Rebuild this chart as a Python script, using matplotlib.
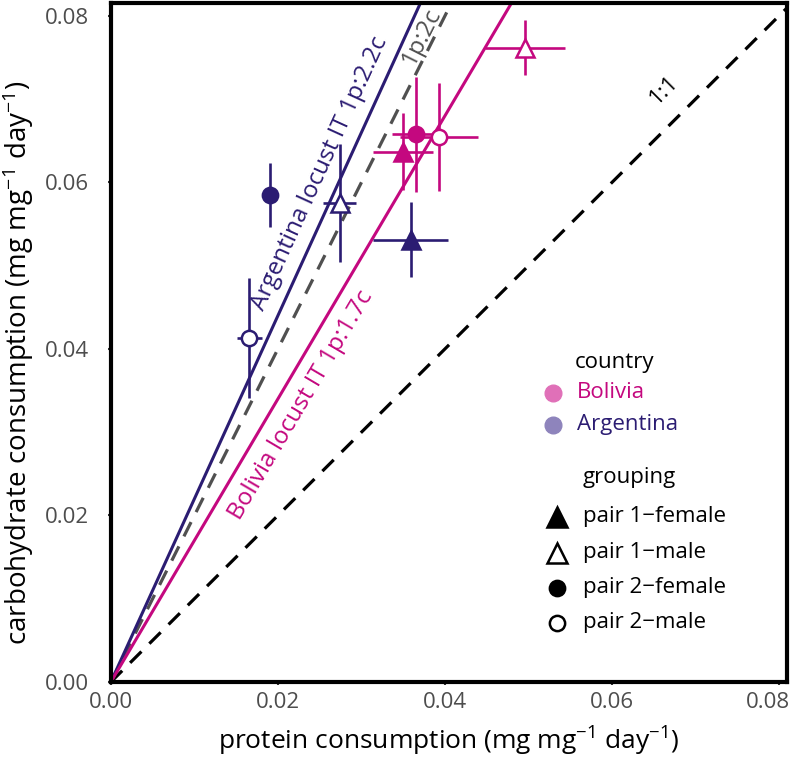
import numpy as np
import matplotlib.pyplot as plt
import matplotlib.transforms as mtrans

plt.rcParams['font.family'] = ['Open Sans', 'DejaVu Sans']
plt.rcParams['mathtext.fontset'] = 'custom'
plt.rcParams['mathtext.rm'] = 'Open Sans'
plt.rcParams['mathtext.it'] = 'Open Sans'

# ---- data ----
groups = ['pair 1\u2212female', 'pair 1\u2212male', 'pair 2\u2212female', 'pair 2\u2212male']
markers = ['^', '^', 'o', 'o']
filled = [True, False, True, False]

bol_x = [0.0350, 0.0496, 0.0366, 0.0393]
bol_y = [0.0637, 0.0762, 0.0658, 0.0655]
bol_xerr = [0.0036, 0.0048, 0.0029, 0.0047]
bol_yerr = [0.0046, 0.0033, 0.0069, 0.0065]

arg_x = [0.0359, 0.0274, 0.0190, 0.0166]
arg_y = [0.0531, 0.0575, 0.0585, 0.0413]
arg_xerr = [0.0045, 0.0020, 0.0006, 0.0015]
arg_yerr = [0.0045, 0.0071, 0.0039, 0.0072]

slope_arg = 2.2
slope_bol = 1.7
slope_ref = 2.0

navy = '#2b1c72'
magenta = '#c4087f'

fig = plt.figure(figsize=(7.92, 7.65), dpi=100)
ax = fig.add_axes([0.140, 0.1085, 0.854, 0.888])
ax.set_xlim(0, 0.081)
ax.set_ylim(0, 0.0816)

xx = np.array([0, 0.081])
ax.plot(xx, xx, color='black', lw=2.3, dashes=(5, 3.5))
ax.plot(xx, slope_ref * xx, color='#505050', lw=2.3, dashes=(5, 3.5))
ax.plot(xx, slope_arg * xx, color=navy, lw=2.2)
ax.plot(xx, slope_bol * xx, color=magenta, lw=2.2)

for xs, ys, xe, ye, col in [(bol_x, bol_y, bol_xerr, bol_yerr, magenta),
                            (arg_x, arg_y, arg_xerr, arg_yerr, navy)]:
    for i in range(4):
        ax.errorbar(xs[i], ys[i], xerr=xe[i], yerr=ye[i], fmt='none',
                    ecolor=col, elinewidth=1.9, capsize=0, zorder=3)
        ax.plot(xs[i], ys[i], marker=markers[i],
                markersize=13 if markers[i] == '^' else 11,
                markerfacecolor=col if filled[i] else 'white',
                markeredgecolor=col, markeredgewidth=1.8, zorder=4)

def angle(slope):
    p1 = ax.transData.transform((0, 0))
    p2 = ax.transData.transform((0.01, 0.01 * slope))
    return np.degrees(np.arctan2(p2[1] - p1[1], p2[0] - p1[0]))

ax.text(0.0250, 0.0611, 'Argentina locust IT 1p:2.2c', color=navy, fontsize=17.5,
        rotation=angle(slope_arg), ha='center', va='center', rotation_mode='anchor')
ax.text(0.0228, 0.0333, 'Bolivia locust IT 1p:1.7c', color=magenta, fontsize=17.5,
        rotation=angle(slope_bol), ha='center', va='center', rotation_mode='anchor')
ax.text(0.0372, 0.0776, '1p:2c', color='#505050', fontsize=17.5,
        rotation=angle(slope_ref), ha='center', va='center', rotation_mode='anchor')
ax.text(0.0663, 0.0711, '1:1', color='black', fontsize=16,
        rotation=angle(1.0), ha='center', va='center', rotation_mode='anchor')

# ---- legends drawn by hand ----
def lx(px):
    return (px - 111) / 676.0

def ly(py):
    return (682 - py) / 679.0

ax.text(lx(575), ly(363), 'country', transform=ax.transAxes, fontsize=16,
        ha='left', va='center')
for name, col, lcol, py in [('Bolivia', magenta, '#e070b8', 393),
                            ('Argentina', navy, '#8e84bc', 425)]:
    ax.plot(lx(553), ly(py), 'o', color=lcol, markersize=12, transform=ax.transAxes,
            clip_on=False)
    ax.text(lx(577), ly(py), name, color=col, transform=ax.transAxes, fontsize=16,
            ha='left', va='center')

ax.text(lx(582), ly(478), 'grouping', transform=ax.transAxes, fontsize=16,
        ha='left', va='center')
for g, m, f, py in zip(groups, markers, filled, [517, 553, 588, 623]):
    ax.plot(lx(557), ly(py), marker=m, markersize=14 if m == '^' else 11,
            markerfacecolor='black' if f else 'white', markeredgecolor='black',
            markeredgewidth=1.8, transform=ax.transAxes, clip_on=False)
    ax.text(lx(583), ly(py), g, transform=ax.transAxes, fontsize=16,
            ha='left', va='center')

ticks = [0.00, 0.02, 0.04, 0.06, 0.08]
ax.set_xticks(ticks)
ax.set_yticks(ticks)
ax.set_xticklabels(['%.2f' % t for t in ticks])
ax.set_yticklabels(['%.2f' % t for t in ticks])
ax.tick_params(labelsize=16, labelcolor='#4d4d4d', color='#333333',
               length=2.5, width=1.5)
ax.tick_params(axis='y', pad=13)
ax.tick_params(axis='x', pad=5)
for s in ax.spines.values():
    s.set_linewidth(3)

# keep the last x tick label inside the figure
last = ax.get_xticklabels()[-1]
last.set_transform(last.get_transform() +
                   mtrans.ScaledTranslation(-8 / 72, 0, fig.dpi_scale_trans))

ax.set_xlabel('protein consumption (mg mg$^{-1}$ day$^{-1}$)', fontsize=19, labelpad=8)
fig.text(18 / 792, 1 - 363 / 765, 'carbohydrate consumption (mg mg$^{-1}$ day$^{-1}$)',
         fontsize=20, rotation=90, ha='center', va='center')

fig.savefig('out.png', dpi=100)
